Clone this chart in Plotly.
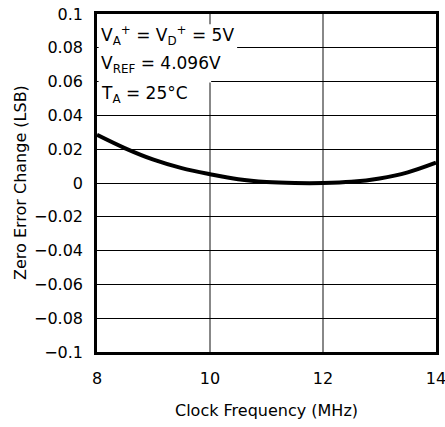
import plotly.graph_objects as go

freq_mhz = [8.0, 8.5, 9.0, 9.5, 10.0, 10.5, 11.0, 11.5, 12.0, 12.5, 13.0, 13.5, 14.0]
zero_err = [0.0285, 0.0205, 0.0138, 0.0088, 0.0052, 0.0022, 0.0006, 0.0000, 0.0000, 0.0007, 0.0027, 0.0063, 0.0120]

x_ticks = [8, 10, 12, 14]
y_ticks = [0.1, 0.08, 0.06, 0.04, 0.02, 0, -0.02, -0.04, -0.06, -0.08, -0.1]
y_tick_text = ["0.1", "0.08", "0.06", "0.04", "0.02", "0", "\u22120.02", "\u22120.04", "\u22120.06", "\u22120.08", "\u22120.1"]
cond_lines = ["V<sub>A</sub><sup>+</sup> = V<sub>D</sub><sup>+</sup> = 5V",
              "V<sub>REF</sub> = 4.096V",
              "T<sub>A</sub> = 25\u00b0C"]
x_title = "Clock Frequency (MHz)"
y_title = "Zero Error Change (LSB)"

FONT = "DejaVu Sans"
FS = 16

W, H = 445, 427
L, T, R, B = 97, 14, 9, 75
PW, PH = W - L - R, H - T - B


def paper_x(px):
    return (px - L) / PW


def paper_y(py):
    return (H - py - B) / PH


fig = go.Figure()
fig.add_trace(go.Scatter(x=freq_mhz, y=zero_err, mode="lines",
                         line=dict(color="black", width=4, shape="spline", smoothing=1.0),
                         hoverinfo="skip", showlegend=False))

fig.update_layout(
    width=W, height=H,
    margin=dict(l=L, r=R, t=T, b=B, autoexpand=False),
    paper_bgcolor="white", plot_bgcolor="white",
    font=dict(family=FONT, size=FS, color="black"),
    xaxis=dict(range=[8, 14], tickvals=x_ticks, ticktext=[str(v) for v in x_ticks],
               showgrid=True, gridcolor="#888888", gridwidth=1.5,
               zeroline=False, showline=True, linecolor="black", linewidth=2.5, mirror=True,
               ticks="", ticklabelstandoff=10, ticklabeloverflow="allow", automargin=False),
    yaxis=dict(range=[-0.1, 0.1], tickvals=y_ticks, ticktext=y_tick_text,
               showgrid=True, gridcolor="black", gridwidth=1,
               zeroline=False, showline=True, linecolor="black", linewidth=2.5, mirror=True,
               ticks="inside", ticklen=4, tickcolor="black", tickwidth=1,
               ticklabelstandoff=8, ticklabeloverflow="allow", automargin=False),
)

# white masks behind condition text
fig.add_shape(type="rect", xref="x", yref="y", x0=8.03, x1=10.48, y0=0.0790, y1=0.0940,
              fillcolor="white", line=dict(width=0), layer="above")
fig.add_shape(type="rect", xref="x", yref="y", x0=8.03, x1=10.02, y0=0.0595, y1=0.0800,
              fillcolor="white", line=dict(width=0), layer="above")
fig.add_shape(type="rect", xref="x", yref="y", x0=8.03, x1=9.98, y0=0.0410, y1=0.0600,
              fillcolor="white", line=dict(width=0), layer="above")

cond_y = [0.0875, 0.0700, 0.0525]
for txt, yv in zip(cond_lines, cond_y):
    fig.add_annotation(x=8.03, y=yv, xref="x", yref="y", text=txt,
                       showarrow=False, xanchor="left", yanchor="middle",
                       font=dict(family=FONT, size=17, color="black"))

fig.add_annotation(x=paper_x(266), y=paper_y(410), xref="paper", yref="paper", text=x_title,
                   showarrow=False, xanchor="center", yanchor="middle",
                   font=dict(family=FONT, size=FS, color="black"))
fig.add_annotation(x=paper_x(20), y=paper_y(183), xref="paper", yref="paper", text=y_title,
                   showarrow=False, xanchor="center", yanchor="middle", textangle=-90,
                   font=dict(family=FONT, size=FS, color="black"))

fig.write_html("out.html", config={"displayModeBar": False},
               post_script="document.body.style.margin='0';")
